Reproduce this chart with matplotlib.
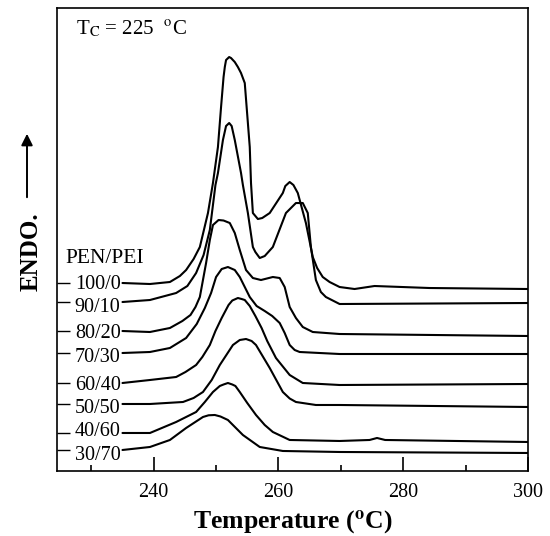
import matplotlib
matplotlib.use("Agg")
import matplotlib.pyplot as plt
from matplotlib.ticker import FixedLocator

plt.rcParams["font.family"] = ["Liberation Serif", "DejaVu Serif"]
plt.rcParams["mathtext.fontset"] = "stix"

# ----------------------------
# Data (temperature in oC, heat flow in arbitrary units)
# ----------------------------
blends = ["100/0", "90/10", "80/20", "70/30", "60/40", "50/50", "40/60", "30/70"]

t_100_0 = [235.0, 239.4, 242.6, 244.2, 245.2, 246.4, 247.4, 248.7, 249.5, 250.3, 250.8,
           251.2, 251.4, 251.6, 252.1, 252.4, 253.0, 253.5, 254.0, 254.6, 254.9, 255.4,
           255.6, 255.9, 256.7, 257.4, 258.6, 260.7, 261.1, 261.8, 262.4, 263.1, 264.4,
           265.5, 266.2, 267.1, 268.2, 269.8, 272.2, 275.4, 284.2, 300.0]
h_100_0 = [18.8, 18.7, 18.9, 19.5, 20.1, 21.2, 22.4, 25.8, 28.8, 32.4, 36.4,
           39.4, 40.4, 41.1, 41.4, 41.3, 40.9, 40.4, 39.8, 38.8, 36.4, 32.4,
           28.8, 25.8, 25.2, 25.3, 25.8, 27.8, 28.5, 28.9, 28.6, 27.8, 24.8,
           21.4, 20.3, 19.4, 18.9, 18.4, 18.2, 18.5, 18.3, 18.2]

t_90_10 = [235.0, 239.4, 243.6, 245.4, 246.8, 248.0, 249.0, 249.9, 250.3, 251.1, 251.6,
           252.1, 252.5, 253.0, 254.0, 254.3, 255.1, 255.9, 256.3, 257.0, 257.8, 259.1,
           261.2, 262.8, 263.9, 264.7, 265.2, 266.0, 266.8, 267.6, 269.8, 300.0]
h_90_10 = [16.9, 17.1, 17.8, 18.5, 19.8, 21.6, 24.1, 28.6, 29.8, 33.1, 34.5,
           34.8, 34.5, 33.1, 29.8, 28.6, 25.8, 22.4, 21.9, 21.3, 21.5, 22.4,
           25.8, 26.8, 26.8, 25.8, 22.4, 19.1, 17.9, 17.4, 16.7, 16.8]

t_80_20 = [235.0, 239.4, 242.6, 244.6, 245.9, 246.7, 247.4, 247.9, 248.4, 249.0, 249.5,
           250.4, 251.2, 252.2, 253.0, 253.8, 254.8, 255.9, 257.2, 259.1, 260.2, 261.0,
           261.8, 262.8, 263.9, 265.5, 269.8, 300.0]
h_80_20 = [14.0, 13.9, 14.3, 15.0, 15.6, 16.4, 17.4, 19.1, 20.8, 23.1, 24.6,
           25.1, 25.05, 24.8, 23.8, 22.1, 20.1, 19.3, 19.1, 19.4, 19.3, 18.4,
           16.4, 15.3, 14.4, 13.9, 13.7, 13.5]

t_70_30 = [235.0, 239.4, 242.6, 245.2, 246.9, 248.2, 249.2, 250.0, 250.9, 251.9, 253.0,
           253.8, 254.6, 255.4, 256.5, 257.8, 259.0, 260.2, 261.0, 261.8, 262.6, 263.4,
           269.8, 300.0]
h_70_30 = [11.8, 11.9, 12.3, 13.3, 14.7, 16.3, 17.8, 19.4, 20.2, 20.4, 20.1,
           19.4, 18.4, 17.4, 16.5, 16.0, 15.5, 14.8, 13.8, 12.6, 12.1, 11.9,
           11.7, 11.7]

t_60_40 = [235.0, 239.4, 243.6, 245.1, 246.8, 247.8, 249.0, 249.9, 250.9, 252.0, 252.6,
           253.5, 254.1, 254.6, 255.4, 256.3, 257.3, 258.2, 259.6, 261.8, 263.9, 269.8, 300.0]
h_60_40 = [8.8, 9.1, 9.4, 9.9, 10.6, 11.4, 12.6, 14.0, 15.3, 16.6, 17.05,
           17.3, 17.2, 17.1, 16.5, 15.5, 14.3, 13.0, 11.3, 9.6, 8.8, 8.6, 8.7]

t_50_50 = [235.0, 239.4, 244.7, 246.4, 247.9, 249.3, 250.6, 252.7, 253.8, 254.8, 255.7,
           256.4, 258.6, 260.7, 261.8, 262.8, 266.0, 269.8, 300.0]
h_50_50 = [6.7, 6.7, 6.9, 7.3, 7.9, 9.1, 10.6, 12.6, 13.1, 13.2, 13.0,
           12.6, 10.3, 7.9, 7.25, 6.9, 6.6, 6.6, 6.4]

t_40_60 = [235.0, 239.4, 243.6, 246.8, 248.2, 249.5, 250.6, 251.2, 251.9, 252.6, 253.1,
           253.8, 255.0, 256.4, 257.8, 259.1, 261.8, 269.8, 274.6, 275.8, 277.1, 300.0]
h_40_60 = [3.8, 3.8, 4.9, 5.9, 6.9, 7.9, 8.5, 8.65, 8.8, 8.65, 8.5,
           7.9, 6.8, 5.6, 4.6, 3.9, 3.1, 3.0, 3.1, 3.3, 3.1, 2.9]

t_30_70 = [235.0, 239.4, 242.6, 245.2, 247.9, 248.8, 249.8, 250.7, 251.9, 254.3, 257.0,
           260.7, 269.8, 300.0]
h_30_70 = [2.1, 2.4, 3.1, 4.3, 5.4, 5.57, 5.6, 5.45, 5.1, 3.6, 2.4,
           2.0, 1.9, 1.8]

temps = [t_100_0, t_90_10, t_80_20, t_70_30, t_60_40, t_50_50, t_40_60, t_30_70]
flows = [h_100_0, h_90_10, h_80_20, h_70_30, h_60_40, h_50_50, h_40_60, h_30_70]

x_major = [240, 260, 280, 300]
x_minor = [230, 250, 270, 290]

# ----------------------------
# Figure
# ----------------------------
fig = plt.figure(figsize=(5.5, 5.36), dpi=100)
ax = fig.add_axes([0.1036, 0.1213, 0.8564, 0.8637])

for t, h in zip(temps, flows):
    ax.plot(t, h, color="black", linewidth=1.5, solid_capstyle="round",
            solid_joinstyle="round")

ax.set_xlim(224.5, 300)
ax.set_ylim(0, 46.3)

ax.xaxis.set_major_locator(FixedLocator(x_major))
ax.xaxis.set_minor_locator(FixedLocator(x_minor))
ax.tick_params(axis="x", which="major", direction="in", length=10, width=1.2,
               labelsize=14.5, pad=9)
ax.tick_params(axis="x", which="minor", direction="in", length=4.5, width=1.2)

# short inward marks on the left frame at each trace's starting level
ax.set_yticks([h[0] for h in flows])
ax.tick_params(axis="y", direction="in", length=9, width=1.0, labelleft=False)

for side in ax.spines.values():
    side.set_linewidth(1.2)

# composition labels at the start of each trace (small vertical nudges as in the original)
label_dy = [-0.1, -0.5, -0.2, -0.5, -0.3, -0.5, 0.15, -0.6]
for name, t, h, dy in zip(blends, temps, flows, label_dy):
    ax.text(t[0] - 0.3, h[0] + dy, name, ha="right", va="center", fontsize=14.5)

ax.text(232.2, h_100_0[0] + 2.5, "PEN/PEI", ha="center", va="center", fontsize=15.5)
ax.text(0.04, 0.955, r"T$_{\mathrm{C}}$ = 225  $^{\mathrm{o}}$C", transform=ax.transAxes,
        ha="left", va="center", fontsize=15)

ax.set_xlabel(r"Temperature ($^{\mathbf{o}}$C)", fontsize=18.5, fontweight="bold",
              labelpad=5)

fig.text(31 / 550, 1 - 252 / 536, "ENDO.", rotation=90, ha="center", va="center",
         fontsize=18, fontweight="bold")
ax.annotate("", xy=(27 / 550, 1 - 131 / 536), xytext=(27 / 550, 1 - 200 / 536),
            xycoords="figure fraction", textcoords="figure fraction",
            arrowprops=dict(arrowstyle="-|>", color="black", lw=1.4, mutation_scale=17))

fig.savefig("out.png", dpi=100)
